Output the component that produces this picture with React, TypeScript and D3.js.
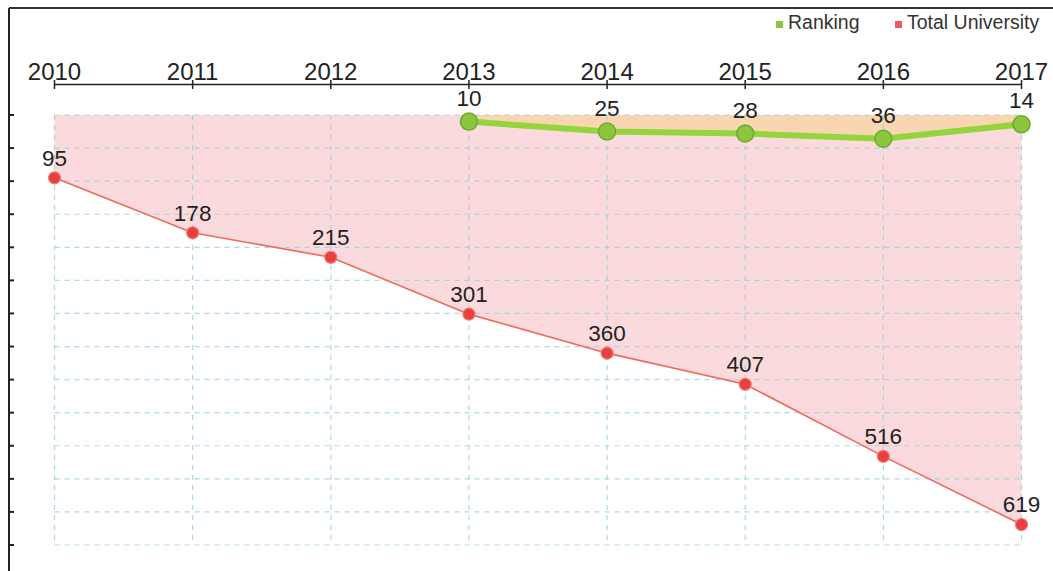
import React from 'react';
import * as d3 from 'd3';

// data
const years = ['2010', '2011', '2012', '2013', '2014', '2015', '2016', '2017'];
const totalUniversity = [95, 178, 215, 301, 360, 407, 516, 619];
const rankingYears = ['2013', '2014', '2015', '2016', '2017'];
const ranking = [10, 25, 28, 36, 14];
const legendItems = ['Ranking', 'Total University'];

const W = 1053;
const H = 571;
const FONT = '"Liberation Sans", Arial, sans-serif';

const App = () => {
  const x = d3.scalePoint<string>().domain(years).range([54.5, 1021.5]);
  const y = d3.scaleLinear().domain([0, 650]).range([115, 545]);
  const yTicks = y.ticks(13);

  const totalPts = years.map((yr, i) => ({ yr, v: totalUniversity[i] }));
  const rankPts = rankingYears.map((yr, i) => ({ yr, v: ranking[i] }));

  const area = d3.area<{ yr: string; v: number }>()
    .x(d => x(d.yr)!)
    .y0(y(0))
    .y1(d => y(d.v));
  const line = d3.line<{ yr: string; v: number }>()
    .x(d => x(d.yr)!)
    .y(d => y(d.v));

  const legendColors = ['#8cc63f', '#ef5a5a'];
  const legendX = [776, 895];

  return (
    <div style={{ position: 'fixed', left: 0, top: 0 }}>
      <svg width={W} height={H} style={{ display: 'block', background: '#fff' }} fontFamily={FONT}>
        {/* frame */}
        <line x1={9} x2={W} y1={8} y2={8} stroke="#333" strokeWidth={2} />
        <line x1={9} x2={9} y1={8} y2={H} stroke="#222" strokeWidth={2} />

        {/* left ticks */}
        {yTicks.map(t => (
          <line key={'lt' + t} x1={9} x2={14} y1={y(t)} y2={y(t)} stroke="#222" strokeWidth={2} />
        ))}

        {/* areas */}
        <path d={area(totalPts)!} fill="#fad3d8" fillOpacity={0.85} />
        <path d={area(rankPts)!} fill="#f8d5ad" fillOpacity={0.9} />

        {/* grid, drawn over the fills like the original */}
        <g stroke="#93cfcf" strokeOpacity={0.75} strokeWidth={1.2} strokeDasharray="5,5">
          {yTicks.map(t => (
            <line key={'gh' + t} x1={x('2010')} x2={x('2017')} y1={y(t)} y2={y(t)} />
          ))}
          {years.map(yr => (
            <line key={'gv' + yr} x1={x(yr)} x2={x(yr)} y1={y(0)} y2={y(650)} />
          ))}
        </g>

        {/* top axis */}
        <line x1={x('2010')} x2={x('2017')} y1={84.5} y2={84.5} stroke="#222" strokeWidth={1.6} />
        {years.map(yr => (
          <g key={'ax' + yr}>
            <line x1={x(yr)} x2={x(yr)} y1={80} y2={89} stroke="#222" strokeWidth={1.5} />
            <text x={x(yr)} y={80} textAnchor="middle" fontSize={24} fill="#222">{yr}</text>
          </g>
        ))}

        {/* total university */}
        <path d={line(totalPts)!} fill="none" stroke="#ef6a5c" strokeWidth={1.6} />
        {totalPts.map(d => (
          <g key={'tu' + d.yr}>
            <circle cx={x(d.yr)} cy={y(d.v)} r={6} fill="#e8403f" stroke="#f07a70" strokeWidth={1.2} />
            <text x={x(d.yr)} y={y(d.v) - 12} textAnchor="middle" fontSize={22.5} fill="#222">{d.v}</text>
          </g>
        ))}

        {/* ranking */}
        <path d={line(rankPts)!} fill="none" stroke="#94d43c" strokeWidth={6} />
        {rankPts.map(d => (
          <g key={'rk' + d.yr}>
            <circle cx={x(d.yr)} cy={y(d.v)} r={8.5} fill="#8cc63f" stroke="#6aaa2e" strokeWidth={1.5} />
            <text x={x(d.yr)} y={y(d.v) - 16} textAnchor="middle" fontSize={22.5} fill="#222">{d.v}</text>
          </g>
        ))}

        {/* legend */}
        {legendItems.map((name, i) => (
          <g key={name}>
            <rect x={legendX[i]} y={21} width={7} height={7} fill={legendColors[i]} />
            <text x={legendX[i] + 12} y={29} fontSize={19.5} fill="#333">{name}</text>
          </g>
        ))}
      </svg>
    </div>
  );
};

export default App;
